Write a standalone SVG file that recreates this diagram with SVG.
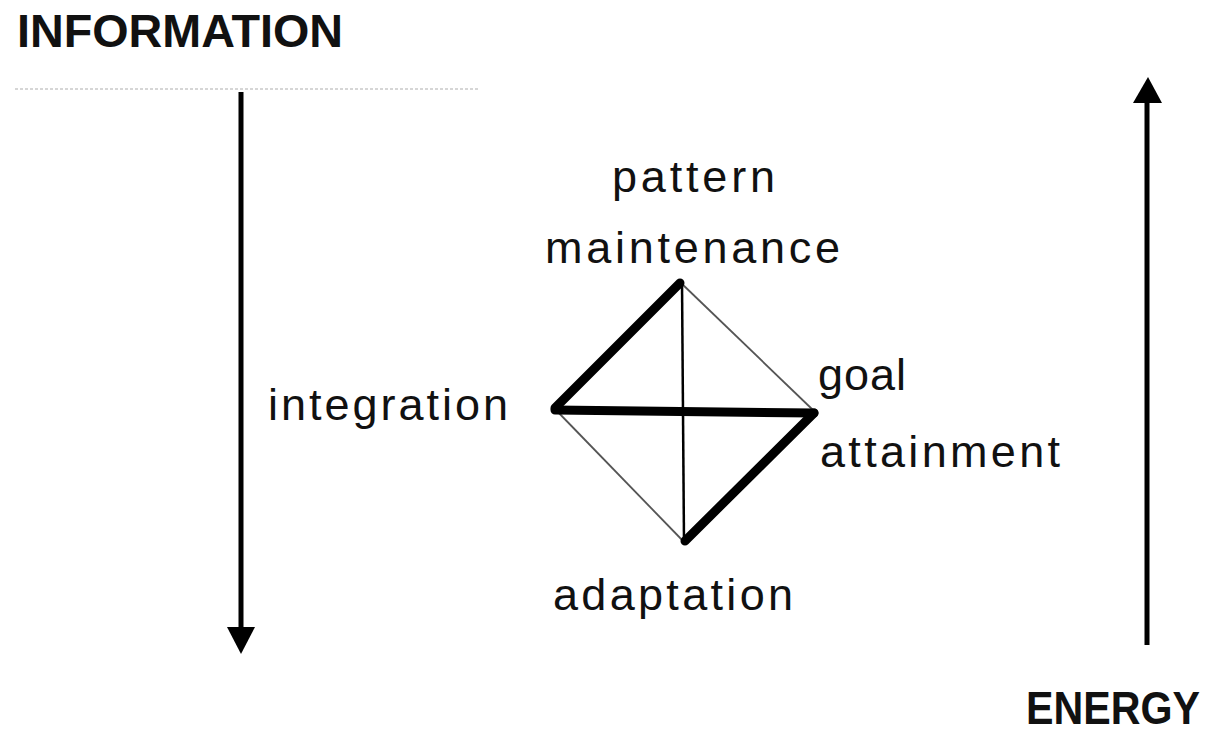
<svg xmlns="http://www.w3.org/2000/svg" width="1217" height="738" viewBox="0 0 1217 738">
<style>
  .lbl { font-family: "Liberation Sans", Arial, sans-serif; font-size: 45px; fill: #111; }
  .hdr { font-family: "Liberation Sans", Arial, sans-serif; font-size: 46px; font-weight: bold; fill: #111; }
  .thick { stroke: #000; stroke-width: 9; stroke-linecap: round; stroke-linejoin: round; fill: none; }
  .mid { stroke: #000; stroke-width: 2.5; fill: none; }
  .thin { stroke: #555; stroke-width: 1.8; fill: none; }
  .shaft { stroke: #000; stroke-width: 5; fill: none; }
</style>
<rect width="1217" height="738" fill="#fff"/>
<g id="header-information">
  <text class="hdr" x="17" y="47" textLength="326" lengthAdjust="spacingAndGlyphs">INFORMATION</text>
  <line x1="15" y1="89" x2="478" y2="89" stroke="#bbb" stroke-width="2" stroke-dasharray="3 2" opacity="0.6"/>
</g>
<g id="header-energy">
  <text class="hdr" x="1026" y="724" font-size="42" textLength="174" lengthAdjust="spacingAndGlyphs">ENERGY</text>
</g>
<g id="connectors">
  <line class="shaft" x1="241" y1="92" x2="241" y2="630"/>
  <polygon points="227,627 255,627 241,654" fill="#000"/>
  <line class="shaft" x1="1147" y1="100" x2="1147" y2="645"/>
  <polygon points="1133,103 1162,103 1148,77" fill="#000"/>
  <line class="thin" x1="680" y1="282" x2="813" y2="410"/>
  <line class="thin" x1="555" y1="409" x2="685" y2="543"/>
  <line class="mid" x1="682" y1="282" x2="684" y2="543"/>
  <line class="thick" x1="680" y1="283" x2="555" y2="408"/>
  <line class="thick" x1="555" y1="410" x2="814" y2="413"/>
  <line class="thick" x1="814" y1="413" x2="685" y2="541"/>
</g>
<g id="node-pattern-maintenance">
  <text class="lbl" x="612" y="192" textLength="163" lengthAdjust="spacing">pattern</text>
  <text class="lbl" x="545" y="263" textLength="295" lengthAdjust="spacing">maintenance</text>
</g>
<g id="node-integration">
  <text class="lbl" x="268" y="420" textLength="240" lengthAdjust="spacing">integration</text>
</g>
<g id="node-goal-attainment">
  <text class="lbl" x="818" y="390" textLength="88" lengthAdjust="spacing">goal</text>
  <text class="lbl" x="820" y="467" textLength="240" lengthAdjust="spacing">attainment</text>
</g>
<g id="node-adaptation">
  <text class="lbl" x="553" y="610" textLength="240" lengthAdjust="spacing">adaptation</text>
</g>
</svg>
